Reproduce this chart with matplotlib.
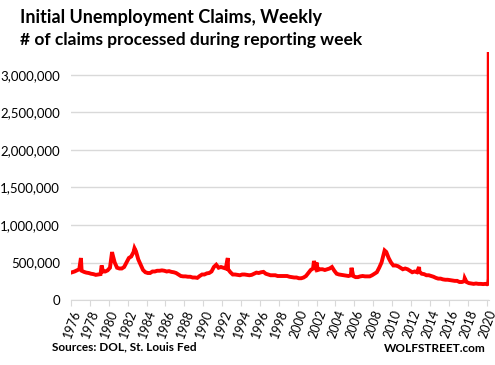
import numpy as np
import matplotlib.pyplot as plt
from matplotlib.ticker import FuncFormatter

plt.rcParams['font.family'] = ['Lato', 'DejaVu Sans']

# quarterly levels, thousands of claims, 1976-2019
years = list(range(1976, 2020))
quarterly = [
    370, 380, 395, 410,   # 1976
    390, 375, 365, 360,   # 1977
    350, 345, 335, 340,   # 1978
    345, 380, 380, 395,   # 1979
    430, 620, 500, 430,   # 1980
    420, 420, 440, 500,   # 1981
    560, 580, 640, 650,   # 1982
    540, 470, 400, 370,   # 1983
    360, 360, 380, 380,   # 1984
    390, 390, 395, 390,   # 1985
    380, 385, 375, 370,   # 1986
    360, 340, 320, 315,   # 1987
    315, 310, 310, 300,   # 1988
    300, 295, 320, 340,   # 1989
    340, 355, 360, 380,   # 1990
    440, 470, 430, 440,   # 1991
    430, 420, 410, 370,   # 1992
    340, 340, 335, 330,   # 1993
    340, 340, 335, 330,   # 1994
    335, 350, 365, 360,   # 1995
    370, 375, 350, 340,   # 1996
    330, 330, 330, 320,   # 1997
    320, 320, 320, 320,   # 1998
    310, 305, 300, 300,   # 1999
    290, 290, 300, 320,   # 2000
    360, 400, 420, 450,   # 2001
    400, 410, 410, 400,   # 2002
    410, 420, 440, 390,   # 2003
    350, 340, 335, 330,   # 2004
    325, 320, 330, 320,   # 2005
    305, 305, 315, 320,   # 2006
    315, 315, 315, 330,   # 2007
    350, 370, 430, 500,   # 2008
    620, 640, 560, 500,   # 2009
    460, 460, 450, 430,   # 2010
    410, 420, 410, 390,   # 2011
    370, 380, 370, 380,   # 2012
    350, 345, 330, 330,   # 2013
    320, 310, 295, 285,   # 2014
    285, 275, 270, 270,   # 2015
    265, 260, 255, 255,   # 2016
    240, 240, 250, 240,   # 2017
    225, 220, 215, 220,   # 2018
    215, 215, 212, 215,   # 2019
]

# single-week spikes and peaks
spike_dates = [1977.05, 1979.25, 1980.35, 1982.72, 1992.6, 2001.72, 2002.0, 2005.7, 2009.2, 2012.85, 2017.68]
spike_values = [560, 460, 640, 690, 560, 520, 500, 430, 660, 440, 290]

# early 2020
end_dates = [2020.05, 2020.15, 2020.2, 2020.22]
end_values = [210, 215, 282, 3283]

q_dates = [y + (q + 0.5) / 4 for y in years for q in range(4)]
dates = np.array(q_dates + spike_dates + end_dates)
values = np.array(quarterly + spike_values + end_values) * 1000
order = np.argsort(dates)
dates, values = dates[order], values[order]

fig = plt.figure(figsize=(4.95, 3.65), dpi=100)
ax = fig.add_axes([71 / 495, 65 / 365, 418 / 495, 247.5 / 365])

ax.plot(dates, values, color='#ff0000', linewidth=2.8, solid_joinstyle='miter')

ax.set_xlim(1976, 2020.25)
ax.set_ylim(0, 3300000)
ax.set_yticks(np.arange(0, 3000001, 500000))
ax.yaxis.set_major_formatter(FuncFormatter(lambda v, p: f'{int(v):,}'))
ax.set_xticks(range(1976, 2021, 2))
ax.set_xticklabels([str(y) for y in range(1976, 2021, 2)], rotation=70,
                   ha='right', rotation_mode='anchor', fontsize=9)
ax.tick_params(axis='y', length=0, labelsize=9.5, pad=8)
ax.tick_params(axis='x', length=4, color='#d9d9d9', pad=2)
ax.grid(axis='y', color='#d9d9d9', linewidth=1)
ax.set_axisbelow(True)
for s in ['top', 'right', 'left']:
    ax.spines[s].set_visible(False)
ax.spines['bottom'].set_color('#d9d9d9')

fig.text(20 / 495, 1 - 17 / 365, 'Initial Unemployment Claims, Weekly',
         fontsize=13, fontweight='bold', va='center')
fig.text(20 / 495, 1 - 40 / 365, '# of claims processed during reporting week',
         fontsize=12.5, fontweight='bold', va='center')
fig.text(52 / 495, 1 - 347 / 365, 'Sources: DOL, St. Louis Fed',
         fontsize=8.5, fontweight='bold', va='center')
fig.text(486 / 495, 1 - 348 / 365, 'WOLFSTREET.com',
         fontsize=8.5, fontweight='bold', va='center', ha='right')

fig.savefig('out.png', dpi=100)
